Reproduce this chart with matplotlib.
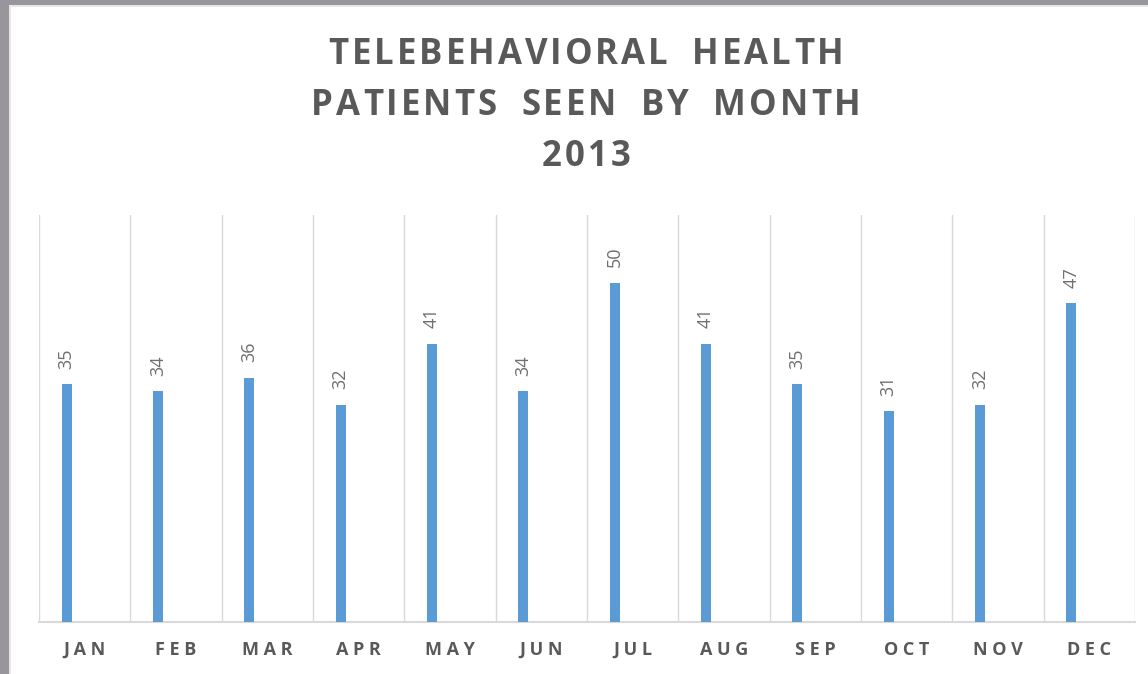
import matplotlib
matplotlib.use("Agg")
import matplotlib.pyplot as plt
from matplotlib.patches import Rectangle
import numpy as np

months = ["JAN", "FEB", "MAR", "APR", "MAY", "JUN", "JUL", "AUG", "SEP", "OCT", "NOV", "DEC"]
patients = [35, 34, 36, 32, 41, 34, 50, 41, 35, 31, 32, 47]
title_lines = ["TELEBEHAVIORAL HEALTH", "PATIENTS SEEN BY MONTH", "2013"]

bar_color = "#5b9bd5"
text_color = "#595959"
grid_color = "#d9d9d9"


def spaced_text(fig, xc, yc, s, tracking, space=0.8, **kw):
    # draw a string one glyph at a time so extra letter spacing can be added
    r = fig.canvas.get_renderer()
    widths = []
    for ch in s:
        t = fig.text(0, 0, ch if ch != " " else "n", **kw)
        w = t.get_window_extent(r).width
        t.remove()
        widths.append(w * space if ch == " " else w)
    total = sum(widths) + tracking * (len(s) - 1)
    x0 = xc - total / 2
    for ch, w in zip(s, widths):
        if ch != " ":
            fig.text(x0 / fig.bbox.width, yc, ch, ha="left", va="center", **kw)
        x0 += w + tracking


fig = plt.figure(figsize=(11.48, 6.74), dpi=100)
fig.patch.set_facecolor("#98969c")
# white slide panel
fig.patches.append(Rectangle((9 / 1148, 0), 1, 1 - 5 / 674, transform=fig.transFigure,
                             facecolor="#e6e6e6", edgecolor="none", zorder=-2))
fig.patches.append(Rectangle((11 / 1148, 0), 1, 1 - 7 / 674, transform=fig.transFigure,
                             facecolor="white", edgecolor="none", zorder=-1))

ax = fig.add_axes([39 / 1148, 1 - 621.5 / 674, (1135 - 39) / 1148, (621.5 - 215) / 674])
ax.set_facecolor("none")
ax.set_zorder(2)

x = np.arange(len(months))
offset = -0.197
ax.bar(x + offset, patients, width=0.11, color=bar_color, zorder=3)

for xi, v in zip(x, patients):
    ax.annotate(str(v), (xi + offset, v), xytext=(0, 11), textcoords="offset points",
                rotation=90, ha="center", va="bottom", fontsize=13,
                color="#6f6f6f", family="Open Sans")

ax.set_xlim(-0.5, len(months) - 0.5)
ax.set_ylim(0, 60)

# category separators
for b in np.arange(-0.5, len(months), 1.0):
    ax.axvline(b, color=grid_color, lw=1.0, zorder=1)

for s in ["top", "right", "left"]:
    ax.spines[s].set_visible(False)
ax.spines["bottom"].set_color(grid_color)
ax.spines["bottom"].set_linewidth(1.5)
ax.set_yticks([])
ax.set_xticks(x)
ax.set_xticklabels([" ".join(m) for m in months], fontsize=13, fontweight="bold",
                   color=text_color, family="Open Sans")
ax.tick_params(axis="x", length=0, pad=14)

for i, line in enumerate(title_lines):
    spaced_text(fig, 586, 1 - (55 + 51 * i) / 674, line, 3.0,
                fontsize=25, fontweight="bold", color=text_color, family="Open Sans")

fig.savefig("out.png", dpi=100)
